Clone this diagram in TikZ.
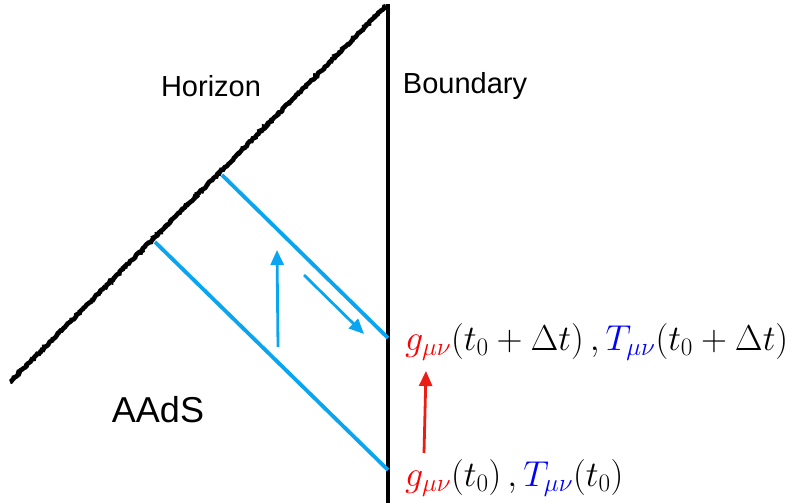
\RequirePackage{fix-cm}
\documentclass[tikz,border=0pt]{standalone}
\usepackage{fontspec}
\newfontfamily\arialf{Liberation Sans}
\usetikzlibrary{arrows.meta,decorations.pathmorphing}
\definecolor{cyanb}{RGB}{10,165,240}
\definecolor{redg}{RGB}{255,0,0}
\definecolor{bluet}{RGB}{0,0,255}
\definecolor{redarrow}{RGB}{235,30,20}
\begin{document}
\begin{tikzpicture}[x=1pt,y=-1pt,
  bluelinestyle/.style={cyanb,line width=3.8pt},
  bluearrowstyle/.style={cyanb,line width=2.8pt,-{Triangle[length=15pt,width=13pt]}},
  redarrowstyle/.style={redarrow,line width=2.8pt,-{Triangle[length=15pt,width=13pt]}},
  sanslabel/.style={font=\arialf\fontsize{29}{34}\selectfont,inner sep=0pt},
  mathlabel/.style={font=\fontsize{36}{42}\selectfont,inner sep=0pt,anchor=base west}]
\useasboundingbox (0,0) rectangle (787,503);
% coordinates
\coordinate (hbot) at (10,382);
\coordinate (htop) at (386,6);
\coordinate (btop) at (388,4);
\coordinate (bbot) at (388,503);
\coordinate (u1) at (222,175);
\coordinate (u2) at (388,338);
\coordinate (l1) at (155,242);
\coordinate (l2) at (388,470);
\coordinate (ua1) at (278,347);
\coordinate (ua2) at (277,250);
\coordinate (da1) at (304,275);
\coordinate (da2) at (364,334);
\coordinate (ra1) at (424,453);
\coordinate (ra2) at (426,371);
% horizon
\draw[line width=4.6pt,decorate,decoration={random steps,segment length=1.5pt,amplitude=0.8pt}] (hbot) -- (htop);
% boundary
\draw[line width=3.8pt] (btop) -- (bbot);
% light rays
\draw[bluelinestyle] (u1) -- (u2);
\draw[bluelinestyle] (l1) -- (l2);
\draw[bluearrowstyle] (ua1) -- (ua2);
\draw[bluearrowstyle] (da1) -- (da2);
\draw[redarrowstyle] (ra1) -- (ra2);
% labels
\node[sanslabel] (hor) at (211,86) {Horizon};
\node[sanslabel] (bnd) at (465,86) {Boundary};
\node[sanslabel,font=\arialf\fontsize{36}{40}\selectfont] (aads) at (158,410) {AAdS};
\node[mathlabel] (top) at (405,350) {$\color{redg}g_{\mu\nu}\color{black}(t_0+\Delta t)\,,\color{bluet}T_{\mu\nu}\color{black}(t_0+\Delta t)$};
\node[mathlabel] (bot) at (405,486) {$\color{redg}g_{\mu\nu}\color{black}(t_0)\,,\color{bluet}T_{\mu\nu}\color{black}(t_0)$};
\end{tikzpicture}
\end{document}
